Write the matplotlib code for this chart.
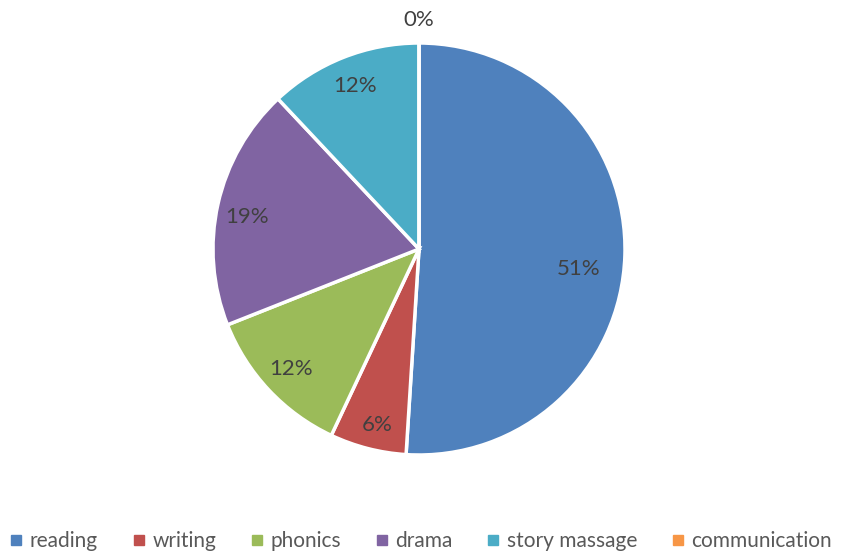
import numpy as np
import matplotlib
matplotlib.use("Agg")
from matplotlib import pyplot as plt
from matplotlib.lines import Line2D

categories = ["reading", "writing", "phonics", "drama", "story massage", "communication"]
shares = [51, 6, 12, 19, 12, 0]
colors = ["#4F81BD", "#C0504D", "#9BBB59", "#8064A2", "#4BACC6", "#F79646"]

plt.rcParams["font.family"] = ["Lato", "DejaVu Sans"]

# label placement: distance from centre (fraction of radius) and
# position along the wedge's sweep (0 = start, 1 = end)
label_radius = [0.78, 0.88, 0.85, 0.85, 0.85, 1.11]
label_along = [0.53, 0.45, 0.5, 0.47, 0.5, 0.5]


def main():
    fig = plt.figure(figsize=(8.42, 5.57), dpi=100)
    W, H = 842, 557
    cx, cy, r = 419, 249, 206
    ax = fig.add_axes([(cx - r) / W, (H - cy - r) / H, 2 * r / W, 2 * r / H])

    ax.pie(shares, colors=colors, startangle=90, counterclock=False,
           radius=1, wedgeprops=dict(edgecolor="white", linewidth=2.5))
    ax.set_xlim(-1, 1)
    ax.set_ylim(-1, 1)
    ax.axis("off")

    total = sum(shares)
    start = 0.0
    for val, rf, fr in zip(shares, label_radius, label_along):
        span = 360.0 * val / total
        ang = np.deg2rad(90 - (start + span * fr))
        ax.text(rf * np.cos(ang), rf * np.sin(ang), f"{val}%",
                ha="center", va="center", fontsize=16, color="#404040")
        start += span

    handles = [Line2D([], [], marker="s", linestyle="none", markersize=7,
                      markerfacecolor=c, markeredgecolor=c) for c in colors]
    leg = fig.legend(handles, categories, loc="center", bbox_to_anchor=(0.5, 1 - 541 / H),
                     ncol=6, frameon=False, fontsize=15, handlelength=0.6,
                     handletextpad=0.35, columnspacing=1.65)
    for t in leg.get_texts():
        t.set_color("#595959")

    fig.savefig("out.png", dpi=100)


if __name__ == "__main__":
    main()
